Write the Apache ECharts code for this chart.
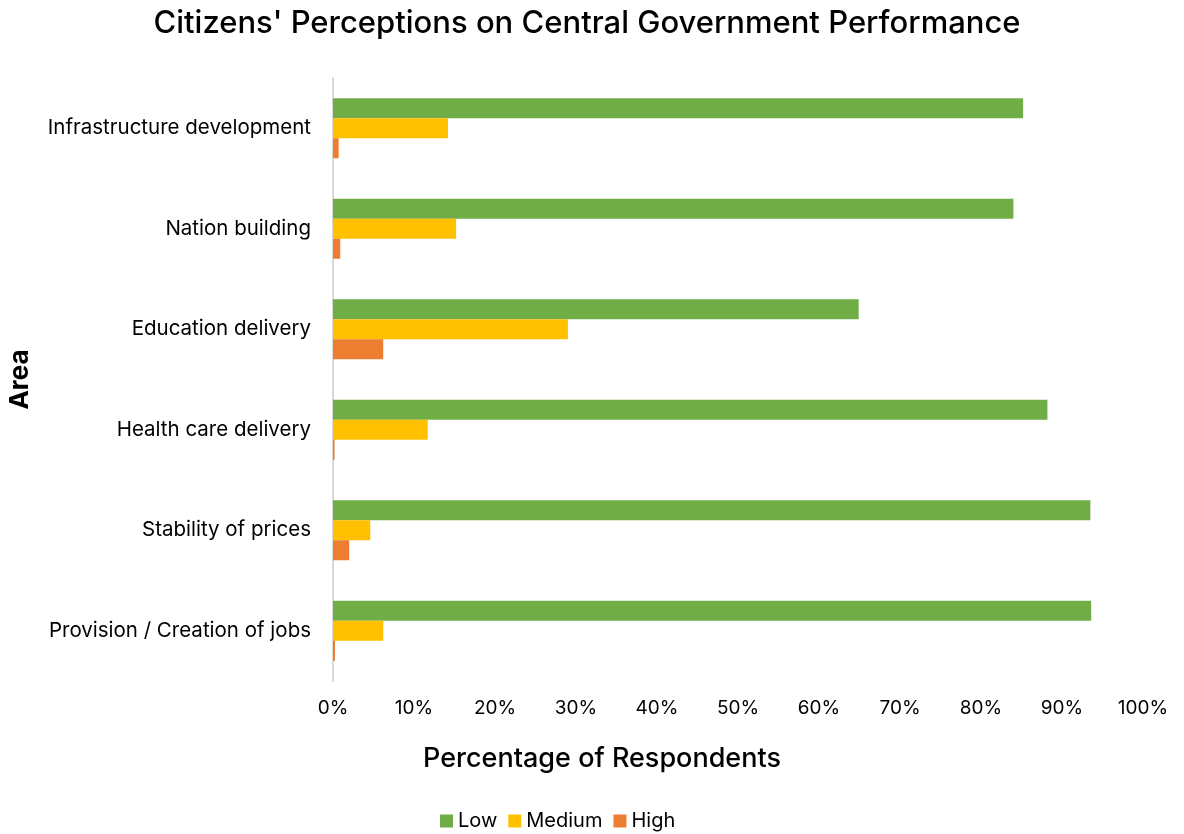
<!DOCTYPE html>
<html>
<head>
<meta charset="utf-8">
<script src="https://cdn.jsdelivr.net/npm/echarts@6/dist/echarts.min.js"></script>
<style>
  html, body { margin: 0; padding: 0; background: #ffffff; }
  #chart { width: 1184px; height: 834px; }
</style>
</head>
<body>
<div id="chart"></div>
<script>
const areas = [
    "Infrastructure development",
    "Nation building",
    "Education delivery",
    "Health care delivery",
    "Stability of prices",
    "Provision / Creation of jobs"
];
const lowValues = [85.2, 84.0, 64.9, 88.2, 93.5, 93.6];
const mediumValues = [14.2, 15.2, 29.0, 11.7, 4.6, 6.2];
const highValues = [0.7, 0.9, 6.2, 0.2, 2.0, 0.25];

const font = "Inter";

const chart = echarts.init(document.getElementById("chart"));
const option = {
    textStyle: { fontFamily: font },
    title: {
        text: "Citizens' Perceptions on Central Government Performance",
        left: 582,
        top: 3,
        textAlign: "center",
        textStyle: { fontFamily: font, fontSize: 31, fontWeight: 500, color: "#000000" }
    },
    legend: {
        data: ["Low", "Medium", "High"],
        bottom: -2,
        left: 435,
        itemWidth: 13,
        itemHeight: 13,
        itemGap: 11,
        icon: "rect",
        textStyle: { fontFamily: font, fontSize: 20, color: "#000000" }
    },
    grid: {
        left: 333,
        right: 41,
        top: 78,
        bottom: 153,
        outerBoundsMode: "none",
        containLabel: false
    },
    xAxis: {
        type: "value",
        min: 0,
        max: 100,
        interval: 10,
        name: "Percentage of Respondents",
        nameLocation: "middle",
        nameGap: 64,
        nameTextStyle: { fontFamily: font, fontSize: 27, fontWeight: 500, color: "#000000", padding: [0, 272, 0, 0] },
        axisLabel: {
            formatter: "{value}%",
            fontFamily: font,
            fontSize: 19,
            color: "#000000",
            margin: 18
        },
        axisLine: { show: false },
        axisTick: { show: false },
        splitLine: { show: false }
    },
    yAxis: {
        type: "category",
        data: areas,
        inverse: true,
        name: "Area",
        nameLocation: "middle",
        nameGap: 300,
        nameRotate: 90,
        nameTextStyle: { fontFamily: font, fontSize: 26, fontWeight: "bold", color: "#000000" },
        axisLabel: {
            fontFamily: font,
            fontSize: 20.5,
            color: "#000000",
            margin: 22
        },
        axisLine: { show: true, lineStyle: { color: "#d9d9d9", width: 2 } },
        axisTick: { show: false }
    },
    series: [
        {
            name: "Low",
            type: "bar",
            data: lowValues,
            barWidth: 20,
            barGap: "0%",
            itemStyle: { color: "#70ad47" }
        },
        {
            name: "Medium",
            type: "bar",
            data: mediumValues,
            barWidth: 20,
            barGap: "0%",
            itemStyle: { color: "#ffc000" }
        },
        {
            name: "High",
            type: "bar",
            data: highValues,
            barWidth: 20,
            barGap: "0%",
            itemStyle: { color: "#ed7d31" }
        }
    ]
};
chart.setOption(option);
</script>
</body>
</html>
